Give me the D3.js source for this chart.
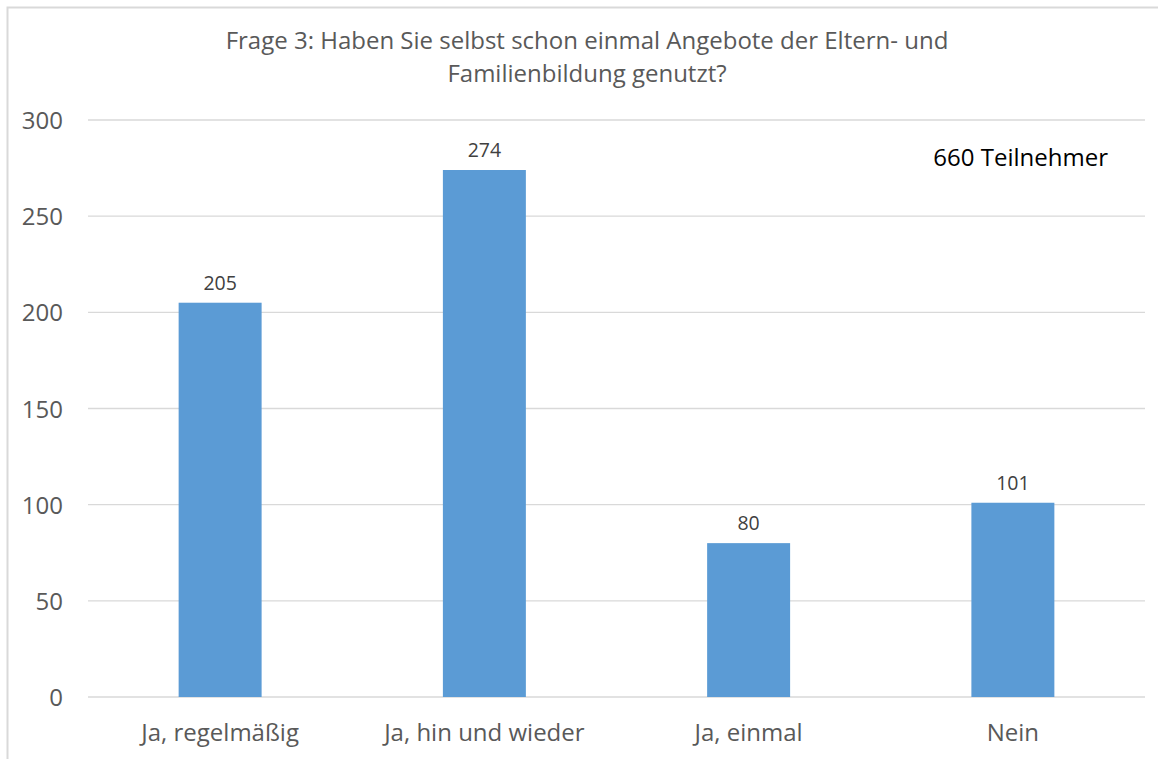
<!DOCTYPE html>
<html><head><meta charset="utf-8">
<script src="https://cdn.jsdelivr.net/npm/d3@7"></script>
<style>body{margin:0;background:#fff}svg{display:block}text{font-family:"Open Sans",sans-serif}</style>
</head><body>
<script>
const categories = ["Ja, regelmäßig", "Ja, hin und wieder", "Ja, einmal", "Nein"];
const values = [205, 274, 80, 101];
const yTicks = [0, 50, 100, 150, 200, 250, 300];
const titleLines = ["Frage 3: Haben Sie selbst schon einmal Angebote der Eltern- und", "Familienbildung genutzt?"];
const note = "660 Teilnehmer";

const W = 1158, H = 759;
const FONT = "'Open Sans', sans-serif";
const svg = d3.select("body").append("svg").attr("width", W).attr("height", H);
svg.append("rect").attr("x", 7.5).attr("y", 7.5).attr("width", W + 10).attr("height", H + 10)
  .attr("fill", "#fff").attr("stroke", "#d9d9d9").attr("stroke-width", 2);

const pL = 88, pR = 1145, pT = 120, pB = 697;
const x = d3.scaleBand().domain(categories).range([pL, pR]).paddingInner(0.686).paddingOuter(0.343);
const y = d3.scaleLinear().domain([0, 300]).range([pB, pT]);

svg.append("g").selectAll("line").data(yTicks).join("line")
  .attr("x1", pL).attr("x2", pR).attr("y1", d => y(d)).attr("y2", d => y(d))
  .attr("stroke", "#d9d9d9").attr("stroke-width", 1.3);

const yAxis = d3.axisLeft(y).tickValues(yTicks).tickSize(0).tickPadding(0);
const gy = svg.append("g").attr("transform", `translate(63,0)`).call(yAxis);
gy.select(".domain").remove();
gy.selectAll("text").attr("font-size", 24).attr("fill", "#595959").attr("dy", "0.36em").style("font-family", FONT);

svg.append("g").selectAll("rect").data(values).join("rect")
  .attr("x", (d, i) => x(categories[i])).attr("width", x.bandwidth())
  .attr("y", d => y(d)).attr("height", d => y(0) - y(d)).attr("fill", "#5b9bd5");

svg.append("g").selectAll("text").data(values).join("text")
  .attr("x", (d, i) => x(categories[i]) + x.bandwidth() / 2).attr("y", d => y(d) - 13)
  .attr("text-anchor", "middle").attr("font-size", 19.5).attr("fill", "#404040").text(d => d);

const xAxis = d3.axisBottom(x).tickSize(0).tickPadding(0);
const gx = svg.append("g").attr("transform", `translate(0,741)`).call(xAxis);
gx.select(".domain").remove();
gx.selectAll("text").attr("font-size", 24).attr("fill", "#595959").attr("dy", 0).style("font-family", FONT);

svg.append("g").selectAll("text").data(titleLines).join("text")
  .attr("x", 587).attr("y", (d, i) => 49 + i * 33).attr("text-anchor", "middle")
  .attr("font-size", 24).attr("fill", "#595959").text(d => d);

svg.append("text").attr("x", 1108).attr("y", 166).attr("text-anchor", "end")
  .attr("font-size", 24).attr("fill", "#000").text(note);
</script>
</body></html>
